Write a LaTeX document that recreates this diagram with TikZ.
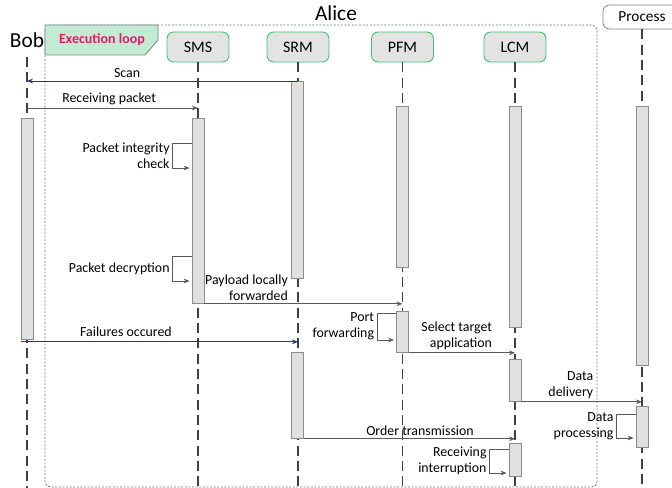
\documentclass[tikz,border=0pt]{standalone}
\usepackage{fontspec}
\setmainfont{Carlito}
\usetikzlibrary{arrows.meta,calc}
\definecolor{msggray}{HTML}{595959}
\definecolor{msgblue}{HTML}{1F3A78}
\definecolor{hdrgreen}{HTML}{3CC36E}
\definecolor{hdrfill}{HTML}{E3E3E3}
\definecolor{barfill}{HTML}{E0E0E0}
\definecolor{tagfill}{HTML}{C2EBD3}
\definecolor{tagtext}{HTML}{E8196A}
\newcommand\actbar[4]{\node[bar, minimum height={(#4-#3)*0.75pt}, anchor=north] (#1) at (#2,#3) {};}
\newcommand\selfloop[4]{\draw[msg] ($(#1.north west)+(0,#2)$) -- ++(-19,0) -- node[lbl, left=1pt]{#4} ++(0,#3) -- ++(17,0);}
\begin{document}
\begin{tikzpicture}[x=0.75pt,y=-0.75pt,
  life/.style={draw=black!75, dash pattern=on 7.5pt off 4pt, line width=0.85pt},
  bar/.style={draw=black!45, fill=barfill, line width=0.6pt, minimum width=9pt, inner sep=0pt},
  hdr/.style={draw=hdrgreen, fill=hdrfill, rounded corners=5pt, line width=0.7pt, minimum width=46.5pt, minimum height=22.5pt, inner sep=0pt, font=\fontsize{12}{14}\selectfont},
  proc/.style={draw=black!50, fill=white, rounded corners=5pt, line width=0.6pt, minimum width=58.5pt, minimum height=18pt, inner sep=0pt, font=\fontsize{11.5}{13}\selectfont},
  big/.style={font=\fontsize{16}{19}\selectfont, inner sep=0pt},
  msg/.style={draw=msggray, line width=0.6pt, -{Stealth[length=4.5pt,width=3.5pt]}},
  bmsg/.style={msg, draw=msgblue, -{Stealth[length=4.5pt,width=3.5pt,fill=msgblue]}},
  lbl/.style={font=\fontsize{10.4}{12.2}\selectfont, align=right, inner sep=1pt},
  frame/.style={draw=black!55, dash pattern=on 1.5pt off 1.2pt, line width=0.6pt, rounded corners=4pt},
  every node/.append style={text=black}]
\useasboundingbox (0,0) rectangle (672,488);
\coordinate (bot) at (0,488);
% Alice frame
\draw[frame] (45,25) rectangle (597,487);
\node[big] (Alice) at (336,13) {Alice};
% execution loop tag
\draw[draw=black!50, fill=tagfill, line width=0.6pt] (45,25) -- (158,25) -- (158,40) -- (145,55) -- (45,55) -- cycle;
\node[font=\bfseries\fontsize{10.5}{12}\selectfont, text=tagtext] (loop) at (102,40) {Execution loop};
% headers
\node[big] (Bob) at (27,40) {Bob};
\node[hdr] (SMS) at (198,47) {SMS};
\node[hdr] (SRM) at (298,47) {SRM};
\node[hdr] (PFM) at (402.5,47) {PFM};
\node[hdr] (LCM) at (515,47) {LCM};
\node[proc] (Process) at (642,17) {Process};
% lifelines
\coordinate (bobtop) at ($(Bob)+(0,17)$);
\draw[life] (bobtop) -- (Bob |- bot);
\foreach \n in {SMS,SRM,PFM,LCM,Process} \draw[life] (\n.south) -- (\n |- bot);
% activation bars
\actbar{Bb}{27}{118}{339}
\actbar{SMSb}{198}{118}{303}
\actbar{SRMa}{297.5}{81}{278}
\actbar{SRMb}{297.5}{352}{438}
\actbar{PFMa}{402.5}{106}{267}
\actbar{PFMb}{402.5}{311}{352}
\actbar{LCMa}{515}{106}{327}
\actbar{LCMb}{515}{359}{401}
\actbar{LCMc}{515}{443}{476}
\actbar{Pa}{642}{106}{365}
\actbar{Pb}{642}{406}{447}
% messages
\draw[bmsg] (SRMa.north) -- node[lbl, above=1pt, pos=0.63]{Scan} (SRMa.north -| Bob);
\coordinate (yrp) at (0,108);
\draw[msg] (Bob |- yrp) -- node[lbl, above=1pt, pos=0.48]{Receiving packet} (SMS |- yrp);
\selfloop{SMSb}{25}{25}{Packet integrity\\check}
\selfloop{SMSb}{138}{25}{Packet decryption}
\draw[msg] (SMSb.south east) -- node[lbl, anchor=south east, pos=0.43, yshift=1pt]{Payload locally\\forwarded} (SMSb.south east -| PFM);
\coordinate (f0) at ($(Bb.south west)+(0,2)$);
\draw[bmsg] (f0) -- node[lbl, above=2.5pt, pos=0.38]{Failures occured} (f0 -| SRM);
\selfloop{PFMb}{2}{27}{Port\\forwarding}
\draw[msg] (PFMb.south east) -- node[lbl, anchor=south east, pos=0.8, yshift=1pt]{Select target\\application} (PFMb.south east -| LCM);
\draw[msg] (LCMb.south east) -- node[lbl, anchor=south east, pos=0.61, yshift=1pt]{Data\\delivery} (LCMb.south east -| Process);
\selfloop{Pb}{8}{24}{Data\\processing}
\draw[msg] (SRMb.south east) -- node[lbl, above=1pt, pos=0.55]{Order transmission} (SRMb.south east -| LCM);
\selfloop{LCMc}{6}{24}{Receiving\\interruption}
\end{tikzpicture}
\end{document}
